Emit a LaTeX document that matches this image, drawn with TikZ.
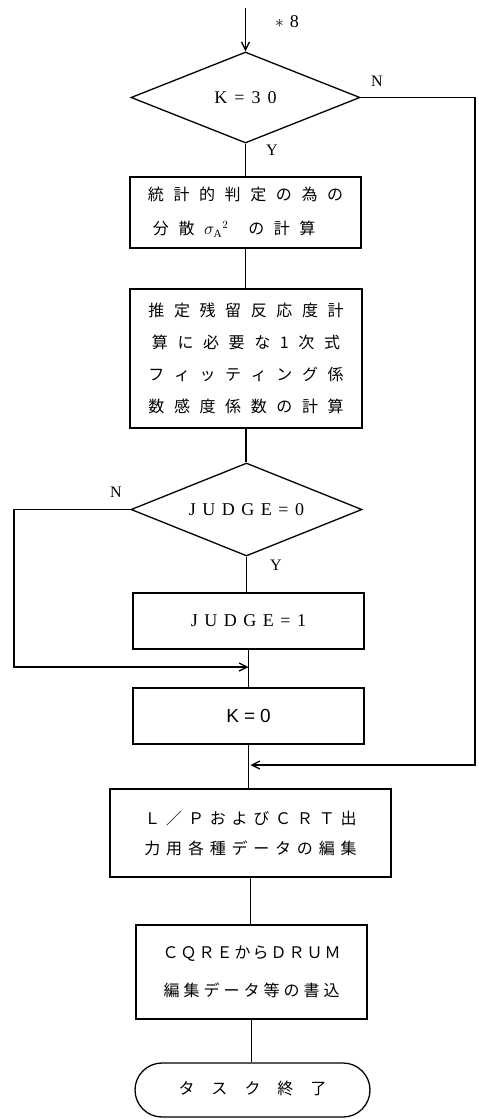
\documentclass[tikz,border=0pt]{standalone}
\usepackage{fontspec}
\setmainfont{Liberation Serif}
\newfontfamily\jp{Noto Sans CJK JP}
\newfontfamily\lsans{Liberation Sans}
\usetikzlibrary{shapes.geometric,arrows.meta}
\newlength\lsp
\def\sptxt#1{\sptxti#1\relax}
\def\sptxti#1{#1\sptxtii}
\def\sptxtii#1{\ifx\relax#1\else\hspace{\lsp}#1\expandafter\sptxtii\fi}
\begin{document}
\begin{tikzpicture}[x=1pt,y=-1pt,line width=1.3pt,
  box/.style={draw,rectangle,inner sep=0pt,align=center},
  dec/.style={draw,diamond,inner sep=0pt,aspect=2.5},
  arr/.style={-{Straight Barb[length=8pt,width=8pt]}},
  lbl/.style={font=\fontsize{16}{16}\selectfont,inner sep=0pt}]
\useasboundingbox (0,0) rectangle (479,1119);

% nodes
\node[dec,minimum width=229pt,minimum height=91pt,
  font=\fontsize{18}{18}\selectfont\setlength\lsp{7pt}] (d1) at (245.5,97.5) {\sptxt{K=30}};
\node[box,align=left,minimum width=231pt,minimum height=71pt,
  font=\jp\fontsize{16}{34}\selectfont\setlength\lsp{9.6pt}] (b1) at (245.5,212.5)
  {\sptxt{統計的判定の為の}\\[0pt]\hspace{5pt}\sptxt{分散}\hspace{\lsp}$\sigma_{\mathrm{A}}{}^{2}$\hspace{20pt}\sptxt{の計算}};
\node[box,minimum width=232pt,minimum height=139pt,
  font=\jp\fontsize{16}{32}\selectfont\setlength\lsp{9.6pt}] (b2) at (246,358.5)
  {\sptxt{推定残留反応度計}\\\sptxt{算に必要な1次式}\\\sptxt{フィッティング係}\\\sptxt{数感度係数の計算}};
\node[dec,minimum width=231pt,minimum height=93pt,
  font=\fontsize{18}{18}\selectfont\setlength\lsp{6.5pt}] (d2) at (246.5,509.5) {\sptxt{JUDGE=0}};
\node[box,minimum width=231pt,minimum height=56pt,
  font=\fontsize{18}{18}\selectfont\setlength\lsp{6.5pt}] (b3) at (248.5,621) {\sptxt{JUDGE=1}};
\node[box,minimum width=231pt,minimum height=56pt,
  font=\lsans\fontsize{19}{19}\selectfont\setlength\lsp{5pt}] (b4) at (248.5,716) {\sptxt{K=0}};
\node[box,minimum width=281pt,minimum height=88pt,
  font=\jp\fontsize{16}{30}\selectfont\setlength\lsp{5.8pt}] (b5) at (250.5,833)
  {\sptxt{Ｌ／ＰおよびＣＲＴ出}\\\sptxt{力用各種データの編集}};
\node[box,minimum width=231pt,minimum height=94pt,
  font=\jp\fontsize{16}{38}\selectfont\setlength\lsp{2pt}] (b6) at (251.5,972)
  {\sptxt{ＣＱＲＥからＤＲＵＭ}\\\setlength\lsp{4pt}\sptxt{編集データ等の書込}};
\node[box,rounded corners=27pt,minimum width=235pt,minimum height=54pt,
  font=\jp\fontsize{16}{16}\selectfont\setlength\lsp{17pt}] (t) at (252.5,1090)
  {\raisebox{5pt}{\sptxt{タスク終了}}};

% labels
\node[lbl,font=\fontsize{18}{18}\selectfont] (s8) at (287,22) {$\ast$\hspace{6pt}8};
\node[lbl] (n1) at (377,81) {N};
\node[lbl] (y1) at (272,150) {Y};
\node[lbl] (n2) at (116,492) {N};
\node[lbl] (y2) at (276,565) {Y};

% helper coordinates
\coordinate (start) at (245.5,8);
\coordinate (j1) at (248.5,667);
\coordinate (j2) at (250.5,765);
\coordinate (nl) at (14,0);
\coordinate (nr) at (475,0);

% connectors
\draw[arr] (start) -- (d1.north);
\draw (d1.south) -- (d1.south |- b1.north);
\draw (b1.south) -- (b1.south |- b2.north);
\draw (b2.south) -- (b2.south |- d2.north);
\draw (d2.south) -- (d2.south |- b3.north);
\draw (b3.south) -- (b3.south |- b4.north);
\draw (b4.south) -- (b4.south |- b5.north);
\draw (b5.south) -- (b5.south |- b6.north);
\draw (b6.south) -- (b6.south |- t.north);
\draw[arr] (d2.west) -- (d2.west -| nl) -- (nl |- j1) -- (j1);
\draw[arr] (d1.east) -- (d1.east -| nr) -- (nr |- j2) -- (j2);
\end{tikzpicture}
\end{document}
